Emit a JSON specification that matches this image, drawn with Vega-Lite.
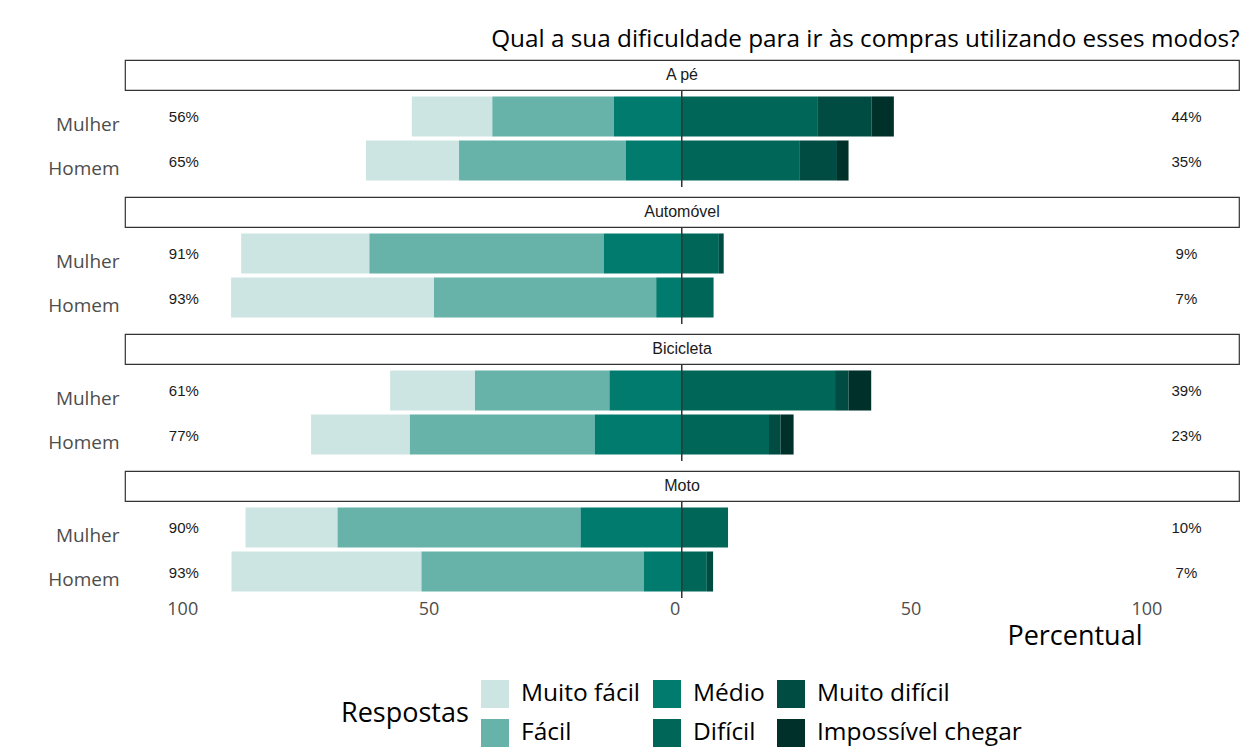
{
  "$schema": "https://vega.github.io/schema/vega-lite/v6.json",
  "background": "white",
  "padding": {"left": 47, "top": 28, "right": 15, "bottom": 2},
  "title": {"text": "Qual a sua dificuldade para ir às compras utilizando esses modos?", "anchor": "end", "font": "Open Sans", "fontSize": 24.3, "fontWeight": "normal", "color": "#000000", "offset": 7},
  "config": {"view": {"stroke": null}, "axis": {"grid": false}, "font": "Open Sans"},
  "datasets": {
    "respostas": [
      {"modo": "A pé", "sexo": "Mulher", "resposta": "Muito fácil", "valor": -16.7},
      {"modo": "A pé", "sexo": "Mulher", "resposta": "Fácil", "valor": -25.2},
      {"modo": "A pé", "sexo": "Mulher", "resposta": "Médio", "valor": -14.1},
      {"modo": "A pé", "sexo": "Mulher", "resposta": "Difícil", "valor": 28.1},
      {"modo": "A pé", "sexo": "Mulher", "resposta": "Muito difícil", "valor": 11.3},
      {"modo": "A pé", "sexo": "Mulher", "resposta": "Impossível chegar", "valor": 4.6},
      {"modo": "A pé", "sexo": "Homem", "resposta": "Muito fácil", "valor": -19.3},
      {"modo": "A pé", "sexo": "Homem", "resposta": "Fácil", "valor": -34.6},
      {"modo": "A pé", "sexo": "Homem", "resposta": "Médio", "valor": -11.6},
      {"modo": "A pé", "sexo": "Homem", "resposta": "Difícil", "valor": 24.5},
      {"modo": "A pé", "sexo": "Homem", "resposta": "Muito difícil", "valor": 7.7},
      {"modo": "A pé", "sexo": "Homem", "resposta": "Impossível chegar", "valor": 2.4},
      {"modo": "Automóvel", "sexo": "Mulher", "resposta": "Muito fácil", "valor": -26.6},
      {"modo": "Automóvel", "sexo": "Mulher", "resposta": "Fácil", "valor": -48.6},
      {"modo": "Automóvel", "sexo": "Mulher", "resposta": "Médio", "valor": -16.2},
      {"modo": "Automóvel", "sexo": "Mulher", "resposta": "Difícil", "valor": 7.7},
      {"modo": "Automóvel", "sexo": "Mulher", "resposta": "Muito difícil", "valor": 1.0},
      {"modo": "Automóvel", "sexo": "Homem", "resposta": "Muito fácil", "valor": -42.1},
      {"modo": "Automóvel", "sexo": "Homem", "resposta": "Fácil", "valor": -46.1},
      {"modo": "Automóvel", "sexo": "Homem", "resposta": "Médio", "valor": -5.3},
      {"modo": "Automóvel", "sexo": "Homem", "resposta": "Difícil", "valor": 6.6},
      {"modo": "Bicicleta", "sexo": "Mulher", "resposta": "Muito fácil", "valor": -17.6},
      {"modo": "Bicicleta", "sexo": "Mulher", "resposta": "Fácil", "valor": -27.9},
      {"modo": "Bicicleta", "sexo": "Mulher", "resposta": "Médio", "valor": -15.0},
      {"modo": "Bicicleta", "sexo": "Mulher", "resposta": "Difícil", "valor": 31.8},
      {"modo": "Bicicleta", "sexo": "Mulher", "resposta": "Muito difícil", "valor": 2.8},
      {"modo": "Bicicleta", "sexo": "Mulher", "resposta": "Impossível chegar", "valor": 4.7},
      {"modo": "Bicicleta", "sexo": "Homem", "resposta": "Muito fácil", "valor": -20.5},
      {"modo": "Bicicleta", "sexo": "Homem", "resposta": "Fácil", "valor": -38.4},
      {"modo": "Bicicleta", "sexo": "Homem", "resposta": "Médio", "valor": -18.0},
      {"modo": "Bicicleta", "sexo": "Homem", "resposta": "Difícil", "valor": 18.1},
      {"modo": "Bicicleta", "sexo": "Homem", "resposta": "Muito difícil", "valor": 2.4},
      {"modo": "Bicicleta", "sexo": "Homem", "resposta": "Impossível chegar", "valor": 2.7},
      {"modo": "Moto", "sexo": "Mulher", "resposta": "Muito fácil", "valor": -19.1},
      {"modo": "Moto", "sexo": "Mulher", "resposta": "Fácil", "valor": -50.4},
      {"modo": "Moto", "sexo": "Mulher", "resposta": "Médio", "valor": -21.0},
      {"modo": "Moto", "sexo": "Mulher", "resposta": "Difícil", "valor": 9.6},
      {"modo": "Moto", "sexo": "Homem", "resposta": "Muito fácil", "valor": -39.4},
      {"modo": "Moto", "sexo": "Homem", "resposta": "Fácil", "valor": -46.1},
      {"modo": "Moto", "sexo": "Homem", "resposta": "Médio", "valor": -7.9},
      {"modo": "Moto", "sexo": "Homem", "resposta": "Difícil", "valor": 5.2},
      {"modo": "Moto", "sexo": "Homem", "resposta": "Muito difícil", "valor": 1.3}
    ],
    "totais": [
      {"modo": "A pé", "sexo": "Mulher", "lado": "esq", "rotulo": "56%"},
      {"modo": "A pé", "sexo": "Mulher", "lado": "dir", "rotulo": "44%"},
      {"modo": "A pé", "sexo": "Homem", "lado": "esq", "rotulo": "65%"},
      {"modo": "A pé", "sexo": "Homem", "lado": "dir", "rotulo": "35%"},
      {"modo": "Automóvel", "sexo": "Mulher", "lado": "esq", "rotulo": "91%"},
      {"modo": "Automóvel", "sexo": "Mulher", "lado": "dir", "rotulo": "9%"},
      {"modo": "Automóvel", "sexo": "Homem", "lado": "esq", "rotulo": "93%"},
      {"modo": "Automóvel", "sexo": "Homem", "lado": "dir", "rotulo": "7%"},
      {"modo": "Bicicleta", "sexo": "Mulher", "lado": "esq", "rotulo": "61%"},
      {"modo": "Bicicleta", "sexo": "Mulher", "lado": "dir", "rotulo": "39%"},
      {"modo": "Bicicleta", "sexo": "Homem", "lado": "esq", "rotulo": "77%"},
      {"modo": "Bicicleta", "sexo": "Homem", "lado": "dir", "rotulo": "23%"},
      {"modo": "Moto", "sexo": "Mulher", "lado": "esq", "rotulo": "90%"},
      {"modo": "Moto", "sexo": "Mulher", "lado": "dir", "rotulo": "10%"},
      {"modo": "Moto", "sexo": "Homem", "lado": "esq", "rotulo": "93%"},
      {"modo": "Moto", "sexo": "Homem", "lado": "dir", "rotulo": "7%"}
    ]
  },
  "spacing": 8,
  "bounds": "full",
  "vconcat": [
    {
      "spacing": 0, "bounds": "flush",
      "vconcat": [
        {
          "width": 1114, "height": 30,
          "data": {"name": "respostas"},
          "transform": [{"filter": "datum.modo === 'A pé'"}, {"aggregate": [{"op": "count", "as": "n"}], "groupby": ["modo"]}],
          "view": {"stroke": "#333333", "strokeWidth": 1.2, "fill": "white"},
          "mark": {"type": "text", "font": "Liberation Sans", "fontSize": 16, "color": "#1a1a1a", "baseline": "middle", "align": "center"},
          "encoding": {"text": {"field": "modo", "type": "nominal"}}
        },
        {
          "width": 1114, "height": 97,
          "layer": [
            {
              "data": {"name": "respostas"},
              "transform": [{"filter": "datum.modo === 'A pé'"}, {"calculate": "indexof(['Médio','Fácil','Muito fácil','Difícil','Muito difícil','Impossível chegar'], datum.resposta)", "as": "ordem"}],
              "mark": {"type": "bar"},
              "encoding": {
                "x": {"field": "valor", "type": "quantitative", "stack": "zero", "scale": {"domain": [-115.5, 115.6], "nice": false, "zero": false}, "axis": null},
                "y": {"field": "sexo", "type": "nominal", "sort": ["Mulher", "Homem"], "scale": {"paddingInner": 0.09, "paddingOuter": 0.147}, "axis": {"title": null, "ticks": false, "domain": false, "labelFont": "Open Sans", "labelFontSize": 19, "labelColor": "#4d4d4d", "labelPadding": 6, "labelOffset": 8.5}},
                "color": {"field": "resposta", "type": "nominal", "scale": {"domain": ["Muito fácil", "Fácil", "Médio", "Difícil", "Muito difícil", "Impossível chegar"], "range": ["#cde5e2", "#67b2a9", "#007b6d", "#006658", "#004c42", "#00302a"]},
                  "legend": {"title": "Respostas", "orient": "none", "legendX": 216, "legendY": 620, "direction": "horizontal", "columns": 3, "values": ["Muito fácil", "Médio", "Muito difícil", "Fácil", "Difícil", "Impossível chegar"], "symbolType": "square", "symbolSize": 784, "symbolStrokeWidth": 0, "labelFont": "Open Sans", "labelFontSize": 24.5, "labelColor": "#000000", "labelOffset": 12, "columnPadding": 12, "rowPadding": 11, "titleFont": "Open Sans", "titleFontSize": 27, "titleFontWeight": "normal", "titleColor": "#000000", "titleOrient": "left", "titlePadding": 12, "titleAnchor": "middle", "titleBaseline": "middle", "labelLimit": 400}},
                "order": {"field": "ordem", "type": "quantitative"}
              }
            },
            {
              "data": {"name": "respostas"},
              "transform": [{"filter": "datum.modo === 'A pé'"}, {"aggregate": [{"op": "count", "as": "n"}], "groupby": ["modo"]}],
              "mark": {"type": "rule", "color": "#333333", "strokeWidth": 1.5},
              "encoding": {"x": {"datum": 0}}
            },
            {
              "data": {"name": "totais"},
              "transform": [{"filter": "datum.modo === 'A pé' && datum.lado === 'esq'"}],
              "mark": {"type": "text", "font": "Liberation Sans", "fontSize": 15, "color": "#1a1a1a", "baseline": "middle", "align": "center", "dy": 1},
              "encoding": {"x": {"datum": -103.3}, "y": {"field": "sexo", "type": "nominal", "sort": ["Mulher", "Homem"], "axis": {"title": null, "ticks": false, "domain": false, "labelFont": "Open Sans", "labelFontSize": 19, "labelColor": "#4d4d4d", "labelPadding": 6, "labelOffset": 8.5}}, "text": {"field": "rotulo"}}
            },
            {
              "data": {"name": "totais"},
              "transform": [{"filter": "datum.modo === 'A pé' && datum.lado === 'dir'"}],
              "mark": {"type": "text", "font": "Liberation Sans", "fontSize": 15, "color": "#1a1a1a", "baseline": "middle", "align": "center", "dy": 1},
              "encoding": {"x": {"datum": 104.7}, "y": {"field": "sexo", "type": "nominal", "sort": ["Mulher", "Homem"], "axis": {"title": null, "ticks": false, "domain": false, "labelFont": "Open Sans", "labelFontSize": 19, "labelColor": "#4d4d4d", "labelPadding": 6, "labelOffset": 8.5}}, "text": {"field": "rotulo"}}
            }
          ]
        }
      ]
    },
    {
      "spacing": 0, "bounds": "flush",
      "vconcat": [
        {
          "width": 1114, "height": 30,
          "data": {"name": "respostas"},
          "transform": [{"filter": "datum.modo === 'Automóvel'"}, {"aggregate": [{"op": "count", "as": "n"}], "groupby": ["modo"]}],
          "view": {"stroke": "#333333", "strokeWidth": 1.2, "fill": "white"},
          "mark": {"type": "text", "font": "Liberation Sans", "fontSize": 16, "color": "#1a1a1a", "baseline": "middle", "align": "center"},
          "encoding": {"text": {"field": "modo", "type": "nominal"}}
        },
        {
          "width": 1114, "height": 97,
          "layer": [
            {
              "data": {"name": "respostas"},
              "transform": [{"filter": "datum.modo === 'Automóvel'"}, {"calculate": "indexof(['Médio','Fácil','Muito fácil','Difícil','Muito difícil','Impossível chegar'], datum.resposta)", "as": "ordem"}],
              "mark": {"type": "bar"},
              "encoding": {
                "x": {"field": "valor", "type": "quantitative", "stack": "zero", "scale": {"domain": [-115.5, 115.6], "nice": false, "zero": false}, "axis": null},
                "y": {"field": "sexo", "type": "nominal", "sort": ["Mulher", "Homem"], "scale": {"paddingInner": 0.09, "paddingOuter": 0.147}, "axis": {"title": null, "ticks": false, "domain": false, "labelFont": "Open Sans", "labelFontSize": 19, "labelColor": "#4d4d4d", "labelPadding": 6, "labelOffset": 8.5}},
                "color": {"field": "resposta", "type": "nominal", "scale": {"domain": ["Muito fácil", "Fácil", "Médio", "Difícil", "Muito difícil", "Impossível chegar"], "range": ["#cde5e2", "#67b2a9", "#007b6d", "#006658", "#004c42", "#00302a"]}},
                "order": {"field": "ordem", "type": "quantitative"}
              }
            },
            {
              "data": {"name": "respostas"},
              "transform": [{"filter": "datum.modo === 'Automóvel'"}, {"aggregate": [{"op": "count", "as": "n"}], "groupby": ["modo"]}],
              "mark": {"type": "rule", "color": "#333333", "strokeWidth": 1.5},
              "encoding": {"x": {"datum": 0}}
            },
            {
              "data": {"name": "totais"},
              "transform": [{"filter": "datum.modo === 'Automóvel' && datum.lado === 'esq'"}],
              "mark": {"type": "text", "font": "Liberation Sans", "fontSize": 15, "color": "#1a1a1a", "baseline": "middle", "align": "center", "dy": 1},
              "encoding": {"x": {"datum": -103.3}, "y": {"field": "sexo", "type": "nominal", "sort": ["Mulher", "Homem"], "axis": {"title": null, "ticks": false, "domain": false, "labelFont": "Open Sans", "labelFontSize": 19, "labelColor": "#4d4d4d", "labelPadding": 6, "labelOffset": 8.5}}, "text": {"field": "rotulo"}}
            },
            {
              "data": {"name": "totais"},
              "transform": [{"filter": "datum.modo === 'Automóvel' && datum.lado === 'dir'"}],
              "mark": {"type": "text", "font": "Liberation Sans", "fontSize": 15, "color": "#1a1a1a", "baseline": "middle", "align": "center", "dy": 1},
              "encoding": {"x": {"datum": 104.7}, "y": {"field": "sexo", "type": "nominal", "sort": ["Mulher", "Homem"], "axis": {"title": null, "ticks": false, "domain": false, "labelFont": "Open Sans", "labelFontSize": 19, "labelColor": "#4d4d4d", "labelPadding": 6, "labelOffset": 8.5}}, "text": {"field": "rotulo"}}
            }
          ]
        }
      ]
    },
    {
      "spacing": 0, "bounds": "flush",
      "vconcat": [
        {
          "width": 1114, "height": 30,
          "data": {"name": "respostas"},
          "transform": [{"filter": "datum.modo === 'Bicicleta'"}, {"aggregate": [{"op": "count", "as": "n"}], "groupby": ["modo"]}],
          "view": {"stroke": "#333333", "strokeWidth": 1.2, "fill": "white"},
          "mark": {"type": "text", "font": "Liberation Sans", "fontSize": 16, "color": "#1a1a1a", "baseline": "middle", "align": "center"},
          "encoding": {"text": {"field": "modo", "type": "nominal"}}
        },
        {
          "width": 1114, "height": 97,
          "layer": [
            {
              "data": {"name": "respostas"},
              "transform": [{"filter": "datum.modo === 'Bicicleta'"}, {"calculate": "indexof(['Médio','Fácil','Muito fácil','Difícil','Muito difícil','Impossível chegar'], datum.resposta)", "as": "ordem"}],
              "mark": {"type": "bar"},
              "encoding": {
                "x": {"field": "valor", "type": "quantitative", "stack": "zero", "scale": {"domain": [-115.5, 115.6], "nice": false, "zero": false}, "axis": null},
                "y": {"field": "sexo", "type": "nominal", "sort": ["Mulher", "Homem"], "scale": {"paddingInner": 0.09, "paddingOuter": 0.147}, "axis": {"title": null, "ticks": false, "domain": false, "labelFont": "Open Sans", "labelFontSize": 19, "labelColor": "#4d4d4d", "labelPadding": 6, "labelOffset": 8.5}},
                "color": {"field": "resposta", "type": "nominal", "scale": {"domain": ["Muito fácil", "Fácil", "Médio", "Difícil", "Muito difícil", "Impossível chegar"], "range": ["#cde5e2", "#67b2a9", "#007b6d", "#006658", "#004c42", "#00302a"]}},
                "order": {"field": "ordem", "type": "quantitative"}
              }
            },
            {
              "data": {"name": "respostas"},
              "transform": [{"filter": "datum.modo === 'Bicicleta'"}, {"aggregate": [{"op": "count", "as": "n"}], "groupby": ["modo"]}],
              "mark": {"type": "rule", "color": "#333333", "strokeWidth": 1.5},
              "encoding": {"x": {"datum": 0}}
            },
            {
              "data": {"name": "totais"},
              "transform": [{"filter": "datum.modo === 'Bicicleta' && datum.lado === 'esq'"}],
              "mark": {"type": "text", "font": "Liberation Sans", "fontSize": 15, "color": "#1a1a1a", "baseline": "middle", "align": "center", "dy": 1},
              "encoding": {"x": {"datum": -103.3}, "y": {"field": "sexo", "type": "nominal", "sort": ["Mulher", "Homem"], "axis": {"title": null, "ticks": false, "domain": false, "labelFont": "Open Sans", "labelFontSize": 19, "labelColor": "#4d4d4d", "labelPadding": 6, "labelOffset": 8.5}}, "text": {"field": "rotulo"}}
            },
            {
              "data": {"name": "totais"},
              "transform": [{"filter": "datum.modo === 'Bicicleta' && datum.lado === 'dir'"}],
              "mark": {"type": "text", "font": "Liberation Sans", "fontSize": 15, "color": "#1a1a1a", "baseline": "middle", "align": "center", "dy": 1},
              "encoding": {"x": {"datum": 104.7}, "y": {"field": "sexo", "type": "nominal", "sort": ["Mulher", "Homem"], "axis": {"title": null, "ticks": false, "domain": false, "labelFont": "Open Sans", "labelFontSize": 19, "labelColor": "#4d4d4d", "labelPadding": 6, "labelOffset": 8.5}}, "text": {"field": "rotulo"}}
            }
          ]
        }
      ]
    },
    {
      "spacing": 0, "bounds": "flush",
      "vconcat": [
        {
          "width": 1114, "height": 30,
          "data": {"name": "respostas"},
          "transform": [{"filter": "datum.modo === 'Moto'"}, {"aggregate": [{"op": "count", "as": "n"}], "groupby": ["modo"]}],
          "view": {"stroke": "#333333", "strokeWidth": 1.2, "fill": "white"},
          "mark": {"type": "text", "font": "Liberation Sans", "fontSize": 16, "color": "#1a1a1a", "baseline": "middle", "align": "center"},
          "encoding": {"text": {"field": "modo", "type": "nominal"}}
        },
        {
          "width": 1114, "height": 97,
          "layer": [
            {
              "data": {"name": "respostas"},
              "transform": [{"filter": "datum.modo === 'Moto'"}, {"calculate": "indexof(['Médio','Fácil','Muito fácil','Difícil','Muito difícil','Impossível chegar'], datum.resposta)", "as": "ordem"}],
              "mark": {"type": "bar"},
              "encoding": {
                "x": {"field": "valor", "type": "quantitative", "stack": "zero", "scale": {"domain": [-115.5, 115.6], "nice": false, "zero": false}, "axis": {"title": "Percentual", "values": [-100, -50, 0, 50, 100], "labelExpr": "abs(datum.value)", "ticks": false, "tickSize": 0, "domain": false, "labelFlush": false, "labelFont": "Open Sans", "labelFontSize": 18, "labelColor": "#4d4d4d", "labelAlign": "right", "labelOffset": -2, "labelPadding": 2, "titleFont": "Open Sans", "titleFontSize": 27, "titleFontWeight": "normal", "titleColor": "#000000", "titleX": 1017, "titleY": 46, "titleAlign": "right", "titleBaseline": "alphabetic"}},
                "y": {"field": "sexo", "type": "nominal", "sort": ["Mulher", "Homem"], "scale": {"paddingInner": 0.09, "paddingOuter": 0.147}, "axis": {"title": null, "ticks": false, "domain": false, "labelFont": "Open Sans", "labelFontSize": 19, "labelColor": "#4d4d4d", "labelPadding": 6, "labelOffset": 8.5}},
                "color": {"field": "resposta", "type": "nominal", "scale": {"domain": ["Muito fácil", "Fácil", "Médio", "Difícil", "Muito difícil", "Impossível chegar"], "range": ["#cde5e2", "#67b2a9", "#007b6d", "#006658", "#004c42", "#00302a"]}},
                "order": {"field": "ordem", "type": "quantitative"}
              }
            },
            {
              "data": {"name": "respostas"},
              "transform": [{"filter": "datum.modo === 'Moto'"}, {"aggregate": [{"op": "count", "as": "n"}], "groupby": ["modo"]}],
              "mark": {"type": "rule", "color": "#333333", "strokeWidth": 1.5},
              "encoding": {"x": {"datum": 0}}
            },
            {
              "data": {"name": "totais"},
              "transform": [{"filter": "datum.modo === 'Moto' && datum.lado === 'esq'"}],
              "mark": {"type": "text", "font": "Liberation Sans", "fontSize": 15, "color": "#1a1a1a", "baseline": "middle", "align": "center", "dy": 1},
              "encoding": {"x": {"datum": -103.3}, "y": {"field": "sexo", "type": "nominal", "sort": ["Mulher", "Homem"], "axis": {"title": null, "ticks": false, "domain": false, "labelFont": "Open Sans", "labelFontSize": 19, "labelColor": "#4d4d4d", "labelPadding": 6, "labelOffset": 8.5}}, "text": {"field": "rotulo"}}
            },
            {
              "data": {"name": "totais"},
              "transform": [{"filter": "datum.modo === 'Moto' && datum.lado === 'dir'"}],
              "mark": {"type": "text", "font": "Liberation Sans", "fontSize": 15, "color": "#1a1a1a", "baseline": "middle", "align": "center", "dy": 1},
              "encoding": {"x": {"datum": 104.7}, "y": {"field": "sexo", "type": "nominal", "sort": ["Mulher", "Homem"], "axis": {"title": null, "ticks": false, "domain": false, "labelFont": "Open Sans", "labelFontSize": 19, "labelColor": "#4d4d4d", "labelPadding": 6, "labelOffset": 8.5}}, "text": {"field": "rotulo"}}
            }
          ]
        }
      ]
    }
  ]
}
